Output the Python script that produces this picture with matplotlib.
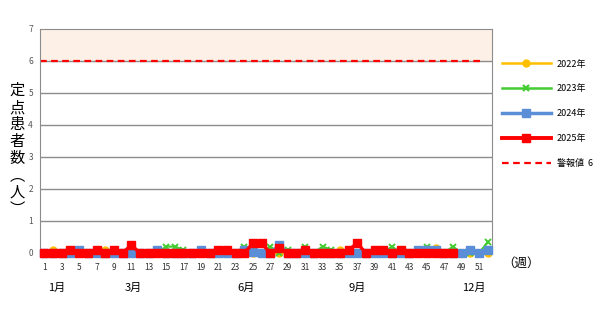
import matplotlib.pyplot as plt
import numpy as np
from matplotlib.lines import Line2D

plt.rcParams['font.family'] = ['Noto Sans CJK JP', 'DejaVu Sans']

weeks = np.arange(1, 53)

# 定点患者数（人）
y2022 = [0, 0.08, 0, 0, 0, 0, 0, 0.08, 0, 0,
         0, 0, 0, 0, 0, 0, 0, 0, 0, 0,
         0, 0, 0, 0, 0, 0, 0, 0, 0, 0,
         0, 0, 0, 0, 0.1, 0, 0, 0, 0, 0,
         0, 0, 0, 0, 0, 0.17, 0, 0, 0, 0,
         0, 0]
y2023 = [0, 0, 0, 0, 0, 0, 0, 0, 0, 0,
         0, 0, 0, 0, 0.2, 0.2, 0.1, 0, 0, 0,
         0, 0, 0, 0.2, 0, 0, 0.2, 0, 0.1, 0,
         0.2, 0, 0.2, 0.1, 0, 0, 0, 0, 0, 0,
         0.2, 0, 0, 0, 0.2, 0, 0, 0.2, 0, 0,
         0, 0.33]
y2024 = [0, 0, 0, 0, 0.1, 0, 0, 0, 0, 0,
         0, 0, 0, 0.1, 0, 0, 0, 0, 0.1, 0,
         0, 0, 0, 0.1, 0.03, 0, 0, 0.25, 0, 0,
         0, 0, 0, 0, 0, 0, 0, 0, 0, 0,
         0, 0, 0, 0.1, 0.1, 0.1, 0, 0, 0, 0.1,
         0, 0.1]
y2025 = [0, 0, 0, 0.08, 0, 0, 0.08, 0, 0.08, 0,
         0.25, 0, 0, 0, 0, 0, 0, 0, 0, 0,
         0.1, 0.1, 0, 0, 0.3, 0.3, 0, 0.15, 0, 0,
         0.1, 0, 0, 0, 0, 0.1, 0.3, 0, 0.1, 0.1,
         0, 0.1, 0, 0, 0, 0, 0, 0]
alert = 6

fig = plt.figure(figsize=(6.09, 3.11), dpi=100)
ax = fig.add_axes([40/609, 1-253/311, 452/609, 224/311])

ax.axhspan(6, 7, color='#FDF0E6', zorder=0)
for v in range(1, 7):
    ax.axhline(v, color='#8c8c8c', lw=1, zorder=1)
ax.plot([0.5, 51.6], [alert, alert], color='#FF0000', lw=1.6, ls=(0, (3, 2)), zorder=2)

ax.plot(weeks, y2022, color='#FFC000', lw=1.6, marker='o', ms=5, zorder=3, clip_on=False)
ax.plot(weeks, y2023, color='#44CC33', lw=1.6, marker='x', ms=5, mew=1.4, zorder=4, clip_on=False)
ax.plot(weeks, y2024, color='#5A8ED6', lw=2.2, marker='s', ms=5.5, zorder=5, clip_on=False)
ax.plot(weeks[:len(y2025)], y2025, color='#FF0000', lw=2.4, marker='s', ms=5.5, zorder=6,
        clip_on=False)

ax.set_xlim(0.5, 52.5)
ax.set_ylim(0, 7)
ax.set_xticks(np.arange(1, 53, 2))
ax.set_yticks(range(0, 8))
ax.tick_params(axis='x', length=0, labelsize=6, colors='#333333', pad=7)
ax.tick_params(axis='y', length=0, labelsize=6, colors='#555555', pad=5)
for s in ['top', 'right', 'left', 'bottom']:
    ax.spines[s].set_color('#8c8c8c')
ax.spines['bottom'].set_visible(False)

fig.text(17/609, 1-150/311, '定\n点\n患\n者\n数\n︵\n人\n︶', fontsize=11,
         ha='center', va='center', linespacing=1.0)
fig.text(521/609, 1-263/311, '（週）', fontsize=9, ha='center', va='center')
for lab, xp in [('1月', 57), ('3月', 133), ('6月', 246), ('9月', 357), ('12月', 474)]:
    fig.text(xp/609, 1-288/311, lab, fontsize=8, ha='center', va='center')

handles = [
    Line2D([], [], color='#FFC000', lw=1.8, marker='o', ms=5),
    Line2D([], [], color='#44CC33', lw=1.8, marker='x', ms=4, mew=1.6),
    Line2D([], [], color='#5A8ED6', lw=2.5, marker='s', ms=5.5),
    Line2D([], [], color='#FF0000', lw=2.8, marker='s', ms=5.5),
    Line2D([], [], color='#FF0000', lw=1.6, ls=(0, (3, 2))),
]
labels = ['2022年', '2023年', '2024年', '2025年', '警報値  6']
fig.legend(handles, labels, loc='upper left', bbox_to_anchor=(498/609, 1-56/311),
           frameon=False, fontsize=6.5, handlelength=5.5, labelspacing=1.75,
           handletextpad=0.6, borderaxespad=0)

fig.savefig('out.png', dpi=100)
